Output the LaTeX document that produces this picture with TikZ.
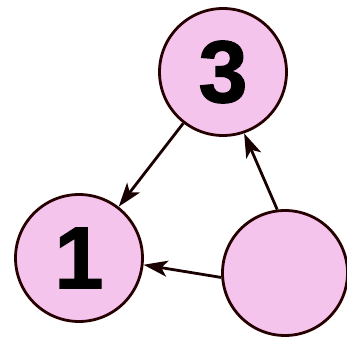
\documentclass[tikz,border=0pt]{standalone}
\usepackage{fontspec}
\setmainfont{Liberation Sans}[BoldFeatures={FakeBold=1.5}]
\usetikzlibrary{arrows.meta}
\definecolor{vtxbg}{HTML}{F5C4EC}
\tikzset{vtp/.style={
  x=1pt,
  y=1pt
}}
\tikzset{vtx/.style={
  draw=black!85!red,
  fill=vtxbg,
  shape=circle,
  line width=2.8pt,
  inner sep=0pt,
  font=\fontsize{88}{88}\selectfont\bfseries,
}}
\tikzset{edg/.style={
  line width=2.8pt,
  draw=black!90!red,
  -{Stealth[length=24pt,width=16pt,inset=6pt]},
}}

\begin{document}
\begin{tikzpicture}[vtp]
    \useasboundingbox (0,0) rectangle (347,340);
    % Vertices
    \node[vtx,minimum size=127pt] (three) at (223,268) {3};
    \node[vtx,minimum size=127pt] (one) at (79,82) {1};
    \node[vtx,minimum size=125pt] (blank) at (285,67) {};
    % Edges
    \draw[edg] (three) -- (one);
    \draw[edg] (blank.97) -- (three.-71);
    \draw[edg] (blank.184) -- (one.-6);
  \end{tikzpicture}
\end{document}
